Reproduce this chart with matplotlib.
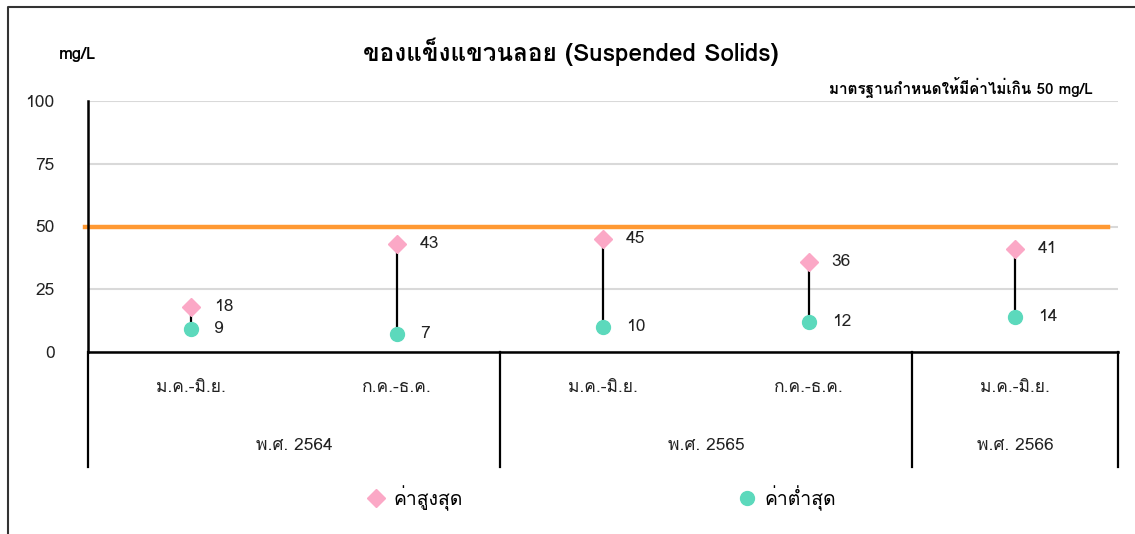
import matplotlib
matplotlib.use('Agg')
import matplotlib.pyplot as plt
import matplotlib.transforms as mtransforms
from matplotlib import font_manager
from matplotlib.ft2font import FT2Font
from matplotlib.lines import Line2D

# data
periods = ['ม.ค.-มิ.ย.', 'ก.ค.-ธ.ค.', 'ม.ค.-มิ.ย.', 'ก.ค.-ธ.ค.', 'ม.ค.-มิ.ย.']
years = ['พ.ศ. 2564', 'พ.ศ. 2565', 'พ.ศ. 2566']
year_span = [(0, 1), (2, 3), (4, 4)]
max_vals = [18, 43, 45, 36, 41]
min_vals = [9, 7, 10, 12, 14]
standard = 50


def thai_families():
    found = []
    for f in font_manager.fontManager.ttflist:
        try:
            if ord('ข') in FT2Font(f.fname).get_charmap() and f.name not in found:
                found.append(f.name)
        except Exception:
            pass
    return found


fams = thai_families() + ['DejaVu Sans']
plt.rcParams['font.family'] = fams

fig = plt.figure(figsize=(11.35, 5.34), dpi=100)
ax = fig.add_axes([88/1135, 1-352/534, 1030/1135, 251/534])

x = list(range(len(periods)))
ax.set_xlim(-0.5, len(periods) - 0.5)
ax.set_ylim(0, 100)
ax.set_yticks([0, 25, 50, 75, 100])
ax.tick_params(axis='y', length=0, pad=24, labelsize=12.5, labelcolor='#222222')
ax.set_xticks([])
ax.grid(axis='y', color='#d9d9d9', lw=1.5)
ax.set_axisbelow(True)
for s in ['top', 'right']:
    ax.spines[s].set_visible(False)
ax.spines['left'].set_linewidth(1.8)
ax.spines['bottom'].set_linewidth(1.8)

ax.axhline(standard, xmin=-0.003, xmax=0.99, color='#FF9933', lw=3.2, zorder=2, clip_on=False)

ax.vlines(x, min_vals, max_vals, color='black', lw=1.6, zorder=3)
ax.plot(x, max_vals, 'D', color='#FBA8C6', ms=9, zorder=4, label='ค่าสูงสุด')
ax.plot(x, min_vals, 'o', color='#5CD9BC', ms=10, zorder=4, label='ค่าต่ำสุด')
for xi, v in zip(x, max_vals):
    ax.text(xi + 0.11, v, str(v), va='center', ha='left', fontsize=12.5, color='#222222')
for xi, v in zip(x, min_vals):
    ax.text(xi + 0.11, v, str(v), va='center', ha='left', fontsize=12.5, color='#222222')

# category / year axis under the plot
tr = mtransforms.blended_transform_factory(ax.transData, ax.transAxes)
for xs in [-0.5, 1.5, 3.5, 4.5]:
    ax.plot([xs, xs], [0, -0.458], color='black', lw=1.6, transform=tr, clip_on=False)
for xi, p in zip(x, periods):
    ax.text(xi, -0.143, p, transform=tr, ha='center', va='center', fontsize=12.5, color='#222222')
for (a, b), yl in zip(year_span, years):
    ax.text((a + b) / 2, -0.375, yl, transform=tr, ha='center', va='center', fontsize=12.5, color='#222222')

fig.text(571/1135, 1-52/534, 'ของแข็งแขวนลอย (Suspended Solids)', ha='center', va='center',
         fontsize=17.5, fontweight='bold', color='black')
fig.text(78/1135, 1-55/534, 'mg/L', ha='center', va='center', fontsize=12, fontweight='bold')
fig.text(1093/1135, 1-87/534, 'มาตรฐานกำหนดให้มีค่าไม่เกิน 50 mg/L', ha='right', va='center',
         fontsize=11, fontweight='bold')

fig.legend(loc='center', bbox_to_anchor=(600/1135, 1-498/534), ncol=2, frameon=False,
           fontsize=14, columnspacing=14, handletextpad=0.3, handlelength=1.2)

# outer frame
fig.add_artist(Line2D([8/1135, 8/1135, 1], [0, 1-7/534, 1-7/534], transform=fig.transFigure,
                      color='#333333', lw=1.5))

fig.savefig('out.png', dpi=100)
